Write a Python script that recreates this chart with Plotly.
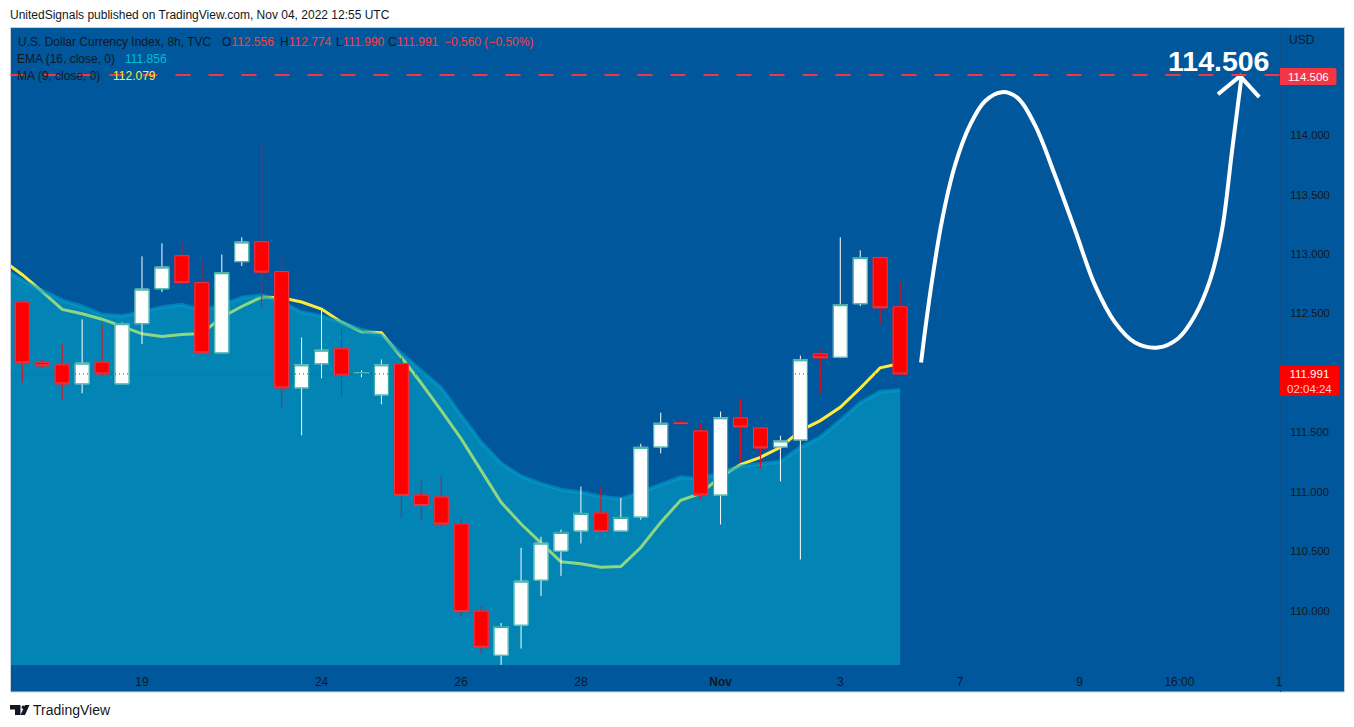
import plotly.graph_objects as go

W, H = 1354, 727
FIG_W, FIG_H = 1356, 727.5
BG = "#00579c"
INK = "#131722"
SANS = "Liberation Sans"

# --- candle values (USD index, 8h bars) ---
bar_index = list(range(45))
opens = [112.596,112.090,112.068,111.908,112.090,111.908,112.414,112.708,112.986,112.759,112.169,112.936,113.104,112.852,111.874,112.077,112.203,111.995,111.815,112.077,110.973,110.956,110.729,109.996,109.625,109.878,110.257,110.501,110.670,110.821,110.670,110.788,111.377,111.579,111.512,110.973,111.622,111.537,111.377,111.436,112.161,112.132,112.582,112.970,112.556]
highs = [112.610,112.110,112.245,112.450,112.408,112.425,112.981,113.090,113.090,112.947,112.997,113.141,113.916,112.970,112.298,112.526,112.374,112.020,112.113,112.127,111.093,111.133,110.776,110.038,109.897,110.529,110.622,110.681,111.043,111.043,110.950,111.403,111.666,111.605,111.571,111.675,111.784,111.540,111.472,112.146,112.195,113.141,113.031,112.989,112.774]
lows = [111.922,112.045,111.776,111.829,111.978,111.908,112.242,112.680,112.759,112.169,112.169,112.899,112.553,111.702,111.475,111.955,111.795,111.964,111.736,110.784,110.765,110.714,109.950,109.638,109.543,109.681,110.124,110.293,110.565,110.658,110.670,110.765,111.323,111.574,110.933,110.725,111.248,111.197,111.087,110.430,111.824,112.124,112.562,112.410,111.990]
closes = [112.085,112.060,111.908,112.082,111.992,112.414,112.705,112.890,112.759,112.169,112.843,113.101,112.848,111.874,112.068,112.191,111.981,111.999,112.068,110.970,110.885,110.729,109.992,109.692,109.866,110.248,110.568,110.658,110.818,110.666,110.784,111.374,111.576,111.574,110.973,111.622,111.546,111.369,111.428,112.110,112.127,112.574,112.970,112.548,111.991]

# --- indicators; the first value belongs to the bar before the first full candle ---
line_index = list(range(-1, 45))
ma9 = [112.950,112.826,112.683,112.534,112.498,112.452,112.391,112.329,112.307,112.323,112.332,112.469,112.559,112.638,112.633,112.596,112.537,112.427,112.346,112.338,112.132,111.913,111.683,111.445,111.178,110.911,110.729,110.568,110.411,110.394,110.366,110.371,110.531,110.742,110.929,110.986,111.127,111.228,111.290,111.374,111.515,111.599,111.711,111.871,112.043,112.079]
ema16 = [112.880,112.778,112.694,112.610,112.559,112.489,112.478,112.511,112.553,112.574,112.526,112.568,112.633,112.652,112.596,112.511,112.478,112.427,112.363,112.315,112.161,112.020,111.873,111.641,111.416,111.239,111.130,111.066,111.018,110.995,110.959,110.939,110.995,111.060,111.121,111.108,111.163,111.214,111.234,111.253,111.374,111.458,111.599,111.748,111.841,111.856]

# --- hand-drawn projection ---
draw_x = [45.05,45.25,45.6,46.1,46.75,47.5,48.25,49.1,49.9,50.76,51.76,52.77,53.77,54.77,55.77,56.93,57.93,58.78,59.53,60.13,60.64,61.1]
draw_y = [112.088,112.357,112.778,113.284,113.747,114.084,114.286,114.362,114.312,114.084,113.663,113.2,112.736,112.425,112.256,112.214,112.29,112.483,112.778,113.2,113.874,114.48]
head_x = [59.93,61.04,62.0]
head_y = [114.345,114.497,114.32]

target_price = 114.506
last_price = 111.991

price_ticks = [110.0,110.5,111.0,111.5,112.5,113.0,113.5,114.0]
time_ticks = [6,15,22,28,35,41,47,53,58,63]
time_labels = ["19","24","26","28","<b>Nov</b>","3","7","9","16:00","1"]

X_RANGE = [-0.566, 63.09]
Y_RANGE = [109.5434, 114.9014]


def fx(x):
    return x / W


def fy(y):
    return 1 - y / H


fig = go.Figure()

fig.add_trace(go.Scatter(x=line_index, y=ma9, mode="lines", line=dict(color="#ffeb3b", width=3),
                         xaxis="x", yaxis="y", showlegend=False))
fig.add_trace(go.Scatter(x=line_index, y=ema16, mode="lines", fill="tozeroy",
                         fillcolor="rgba(4,189,211,0.45)",
                         line=dict(color="rgba(4,160,205,0.55)", width=4),
                         xaxis="x", yaxis="y", showlegend=False))

# wicks
fig.add_trace(go.Candlestick(x=bar_index, open=opens, high=highs, low=lows, close=closes,
                             increasing=dict(line=dict(color="#ffffff", width=1), fillcolor="#ffffff"),
                             decreasing=dict(line=dict(color="#ef0a14", width=1), fillcolor="#ff0000"),
                             whiskerwidth=0, xaxis="x2", yaxis="y2", showlegend=False, hoverinfo="skip"))
# bodies
body_top = [max(a, b) for a, b in zip(opens, closes)]
body_bot = [min(a, b) for a, b in zip(opens, closes)]
fig.add_trace(go.Candlestick(x=bar_index, open=opens, high=body_top, low=body_bot, close=closes,
                             increasing=dict(line=dict(color="#26a69a", width=1), fillcolor="#ffffff"),
                             decreasing=dict(line=dict(color="#f23645", width=1), fillcolor="#ff0000"),
                             whiskerwidth=0, xaxis="x2", yaxis="y2", showlegend=False, hoverinfo="skip"))

fig.add_trace(go.Scatter(x=draw_x, y=draw_y, mode="lines", line=dict(color="#ffffff", width=4, shape="spline"),
                         xaxis="x2", yaxis="y2", showlegend=False))
fig.add_trace(go.Scatter(x=head_x, y=head_y, mode="lines", line=dict(color="#ffffff", width=4),
                         xaxis="x2", yaxis="y2", showlegend=False))

shapes = [
    dict(type="rect", xref="paper", yref="paper", x0=fx(10.5), x1=fx(1344.5), y0=fy(691), y1=fy(27.5),
         fillcolor=BG, line=dict(color="#c3d0dc", width=1), layer="below"),
    dict(type="line", xref="paper", yref="paper", x0=fx(1280.5), x1=fx(1280.5), y0=fy(691), y1=fy(28),
         line=dict(color="#0e4f88", width=1), layer="below"),
    dict(type="line", xref="paper", yref="y", x0=fx(10.5), x1=fx(1280), y0=target_price, y1=target_price,
         line=dict(color="#f23645", width=2, dash="15px,18px"), layer="above"),
    dict(type="line", xref="paper", yref="y", x0=fx(11), x1=fx(1280), y0=last_price, y1=last_price,
         line=dict(color="#e4121c", width=1, dash="1px,3px"), layer="above"),
    dict(type="path", xref="paper", yref="paper", fillcolor="#f23645", line=dict(width=0), layer="above",
         path=f"M{fx(1280)},{fy(68)} L{fx(1334)},{fy(68)} Q{fx(1336.5)},{fy(68)} {fx(1336.5)},{fy(70)} "
              f"L{fx(1336.5)},{fy(83)} Q{fx(1336.5)},{fy(85)} {fx(1334)},{fy(85)} L{fx(1280)},{fy(85)} Z"),
    dict(type="rect", xref="paper", yref="paper", x0=fx(1280), x1=fx(1339.5), y0=fy(395.5), y1=fy(365),
         fillcolor="#ff0000", line=dict(width=0), layer="above"),
    # TradingView logo
    dict(type="path", xref="paper", yref="paper", fillcolor=INK, line=dict(width=0),
         path=f"M{fx(10)},{fy(704)} L{fx(20.5)},{fy(704)} L{fx(20.5)},{fy(714)} L{fx(15)},{fy(714)} "
              f"L{fx(15)},{fy(708.5)} L{fx(10)},{fy(708.5)} Z"),
    dict(type="circle", xref="paper", yref="paper", x0=fx(21.5), x1=fx(25), y0=fy(708), y1=fy(704.5),
         fillcolor=INK, line=dict(width=0)),
    dict(type="path", xref="paper", yref="paper", fillcolor=INK, line=dict(width=0),
         path=f"M{fx(25)},{fy(704)} L{fx(29.5)},{fy(704)} L{fx(25)},{fy(714)} L{fx(20.5)},{fy(714)} Z"),
]


def label(x, y, text, color=INK, size=12, family=SANS, anchor="left"):
    return dict(xref="paper", yref="paper", x=fx(x), y=fy(y), text=text, showarrow=False,
                xanchor=anchor, yanchor="middle", align=anchor,
                font=dict(color=color, size=size, family=family), borderpad=0, borderwidth=0)


RED = "#ff3b3b"
annotations = [
    label(10, 14.5, "UnitedSignals published on TradingView.com, Nov 04, 2022 12:55 UTC", size=12),
    label(18, 41.5, "U.S. Dollar Currency Index, 8h, TVC"),
    label(222, 41.5, f'O<span style="color:{RED}">112.556</span>'),
    label(279.5, 41.5, f'H<span style="color:{RED}">112.774</span>'),
    label(336, 41.5, f'L<span style="color:{RED}">111.990</span>'),
    label(388.5, 41.5, f'C<span style="color:{RED}">111.991</span>'),
    label(444, 41.5, "\u22120.560 (\u22120.50%)", color=RED),
    label(17, 59, "EMA (16, close, 0)"),
    label(124.5, 59, "111.856", color="#00bcd4"),
    label(17, 76, "MA (9, close, 0)"),
    label(112.5, 76, "112.079", color="#ffeb3b"),
    label(1289, 40, "USD"),
    label(1308, 76.5, "114.506", color="#ffffff", size=11.5, anchor="center"),
    label(1309, 380.5, '111.991<br><span style="color:#ffc9c9">02:04:24</span>', color="#ffffff", size=11.5, anchor="center"),
    label(1218.5, 61, "<b>114.506</b>", color="#ffffff", size=28.5, anchor="center"),
    label(33, 709, "TradingView", size=14),
]

fig.update_layout(
    width=FIG_W, height=FIG_H, margin=dict(l=0, r=0, t=0, b=0, pad=0),
    paper_bgcolor="#ffffff", plot_bgcolor="rgba(0,0,0,0)",
    showlegend=False, hovermode=False, boxmode="overlay", boxgap=0.3, boxgroupgap=0,
    shapes=shapes, annotations=annotations,
    font=dict(family=SANS, size=12, color=INK),
    xaxis=dict(domain=[fx(11), fx(1281)], range=X_RANGE, tickmode="array", tickvals=time_ticks,
               ticktext=time_labels, showgrid=False, zeroline=False, showline=False,
               ticks="outside", ticklen=6, tickcolor="rgba(0,0,0,0)", rangeslider=dict(visible=False),
               anchor="y", tickfont=dict(size=12, color=INK, family=SANS)),
    yaxis=dict(domain=[fy(664), fy(28)], range=Y_RANGE, side="right", tickmode="array",
               tickvals=price_ticks, ticktext=[f"{v:.3f}" for v in price_ticks], showgrid=False,
               zeroline=False, showline=False, ticks="outside", ticklen=6, tickcolor="rgba(0,0,0,0)",
               anchor="x", tickfont=dict(size=11.2, color=INK, family=SANS)),
    xaxis2=dict(overlaying="x", range=X_RANGE, visible=False, rangeslider=dict(visible=False), anchor="y2"),
    yaxis2=dict(overlaying="y", range=Y_RANGE, visible=False, anchor="x2", side="right"),
)

fig.write_html("out.html", config=dict(displayModeBar=False),
               post_script="document.documentElement.style.margin='0';document.documentElement.style.overflow='hidden';"
                           "document.body.style.margin='0';document.body.style.overflow='hidden';"
                           "document.body.style.height='727px';")
